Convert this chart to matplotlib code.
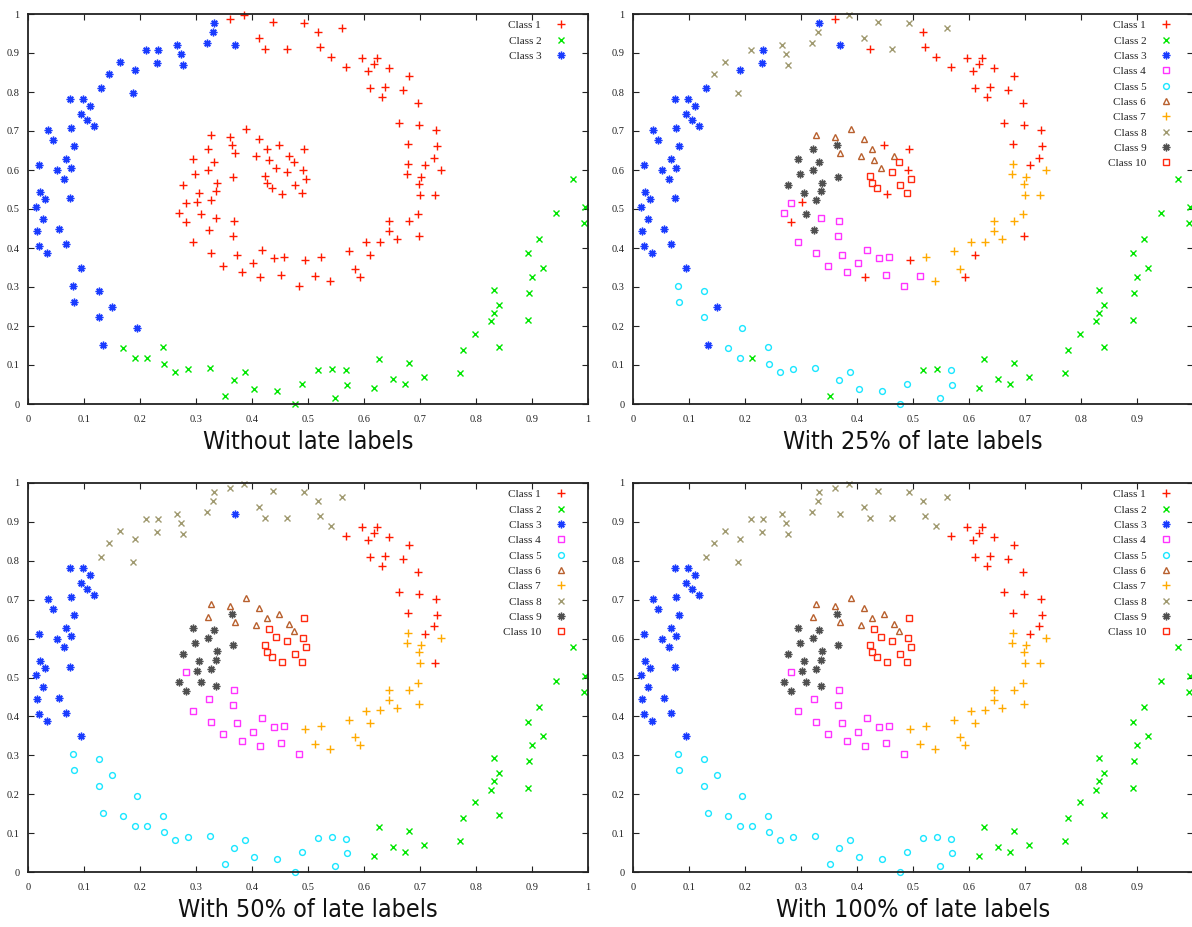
import matplotlib
matplotlib.use("Agg")
import matplotlib.pyplot as plt

# Points grouped by the class they get in the 100% panel.
# cK_orig: class in the "without late labels" panel,
# cK_p25 / cK_p50: class in the 25% / 50% panels (None = same as 100%).

c1_x = [0.596, 0.624, 0.617, 0.608, 0.567, 0.645, 0.610, 0.637, 0.632, 0.663,
        0.680, 0.669, 0.697, 0.698, 0.729, 0.679, 0.730, 0.725, 0.709]
c1_y = [0.886, 0.886, 0.871, 0.854, 0.863, 0.862, 0.810, 0.813, 0.787, 0.720,
        0.841, 0.804, 0.772, 0.715, 0.703, 0.667, 0.661, 0.632, 0.612]
c1_orig = 1
c1_p25 = None
c1_p50 = None

c2_x = [0.626, 0.651, 0.618, 0.680, 0.708, 0.673, 0.771, 0.776, 0.798, 0.841,
        0.826, 0.832, 0.841, 0.833, 0.893, 0.894, 0.900, 0.920, 0.892, 0.912,
        0.942, 0.973, 0.995, 0.993]
c2_y = [0.115, 0.063, 0.041, 0.105, 0.070, 0.052, 0.080, 0.138, 0.179, 0.146,
        0.212, 0.234, 0.254, 0.292, 0.216, 0.285, 0.326, 0.350, 0.386, 0.423,
        0.491, 0.578, 0.505, 0.463]
c2_orig = 2
c2_p25 = None
c2_p50 = None

c3_x = [0.075, 0.098, 0.110, 0.094, 0.105, 0.118, 0.035, 0.076, 0.045, 0.082,
        0.067, 0.077, 0.052, 0.020, 0.065, 0.021, 0.030, 0.075, 0.014, 0.027,
        0.016, 0.056, 0.019, 0.034, 0.068, 0.095]
c3_y = [0.781, 0.781, 0.763, 0.744, 0.728, 0.713, 0.703, 0.708, 0.677, 0.661,
        0.628, 0.606, 0.600, 0.613, 0.578, 0.543, 0.525, 0.528, 0.506, 0.475,
        0.444, 0.448, 0.406, 0.387, 0.410, 0.350]
c3_orig = 3
c3_p25 = None
c3_p50 = None

c4_x = [0.282, 0.323, 0.294, 0.326, 0.368, 0.366, 0.373, 0.417, 0.348, 0.382,
        0.402, 0.440, 0.457, 0.414, 0.452, 0.484]
c4_y = [0.515, 0.446, 0.415, 0.386, 0.468, 0.430, 0.382, 0.396, 0.355, 0.338,
        0.361, 0.374, 0.376, 0.325, 0.332, 0.303]
c4_orig = 1
c4_p25 = [4, 9, 4, 4, 4, 4, 4, 4, 4, 4, 4, 4, 4, 1, 4, 4]
c4_p50 = None

c5_x = [0.081, 0.082, 0.127, 0.150, 0.126, 0.195, 0.134, 0.170, 0.191, 0.212,
        0.241, 0.242, 0.262, 0.285, 0.325, 0.387, 0.367, 0.404, 0.352, 0.445,
        0.490, 0.477, 0.517, 0.543, 0.567, 0.570, 0.548]
c5_y = [0.303, 0.262, 0.291, 0.249, 0.222, 0.196, 0.152, 0.143, 0.119, 0.119,
        0.145, 0.102, 0.081, 0.091, 0.093, 0.082, 0.062, 0.039, 0.021, 0.033,
        0.051, 0.000, 0.088, 0.089, 0.086, 0.048, 0.015]
c5_orig = [3, 3, 3, 3, 3, 3, 3, 2, 2, 2, 2, 2, 2, 2,
           2, 2, 2, 2, 2, 2, 2, 2, 2, 2, 2, 2, 2]
c5_p25 = [5, 5, 5, 3, 5, 5, 3, 5, 5, 2, 5, 5, 5, 5,
          5, 5, 5, 5, 2, 5, 5, 5, 2, 2, 5, 5, 5]
c5_p50 = None

c6_x = [0.326, 0.322, 0.390, 0.361, 0.413, 0.369, 0.426, 0.449, 0.408, 0.466, 0.475]
c6_y = [0.690, 0.655, 0.705, 0.684, 0.679, 0.643, 0.653, 0.664, 0.636, 0.637, 0.620]
c6_orig = 1
c6_p25 = [6, 9, 6, 6, 6, 6, 6, 1, 6, 6, 10]
c6_p50 = None

c7_x = [0.679, 0.738, 0.676, 0.701, 0.699, 0.700, 0.727, 0.696, 0.680, 0.699,
        0.645, 0.645, 0.604, 0.629, 0.659, 0.573, 0.611, 0.495, 0.524, 0.584,
        0.592, 0.513, 0.540]
c7_y = [0.615, 0.601, 0.589, 0.583, 0.565, 0.536, 0.536, 0.487, 0.468, 0.431,
        0.468, 0.443, 0.415, 0.416, 0.422, 0.392, 0.383, 0.368, 0.376, 0.346,
        0.326, 0.328, 0.315]
c7_orig = 1
c7_p25 = [7, 7, 7, 7, 7, 7, 7, 7, 7, 1, 7, 7, 7, 7, 7, 7, 1, 1, 7, 7, 1, 4, 7]
c7_p50 = [7, 7, 7, 7, 7, 7, 1, 7, 7, 7, 7, 7, 7, 7, 7, 7, 7, 7, 7, 7, 7, 7, 7]

c8_x = [0.130, 0.145, 0.165, 0.191, 0.187, 0.210, 0.233, 0.230, 0.266, 0.274,
        0.276, 0.320, 0.330, 0.332, 0.361, 0.386, 0.438, 0.493, 0.561, 0.517,
        0.412, 0.369, 0.423, 0.462, 0.521, 0.541]
c8_y = [0.809, 0.845, 0.877, 0.856, 0.797, 0.907, 0.907, 0.875, 0.920, 0.897,
        0.870, 0.925, 0.955, 0.977, 0.987, 0.997, 0.979, 0.977, 0.964, 0.955,
        0.939, 0.921, 0.911, 0.910, 0.915, 0.890]
c8_orig = [3, 3, 3, 3, 3, 3, 3, 3, 3, 3, 3, 3, 3,
           3, 1, 1, 1, 1, 1, 1, 1, 3, 1, 1, 1, 1]
c8_p25 = [3, 8, 8, 3, 8, 8, 3, 3, 8, 8, 8, 8, 8,
          3, 1, 8, 8, 8, 8, 1, 8, 3, 1, 8, 1, 1]
c8_p50 = [8, 8, 8, 8, 8, 8, 8, 8, 8, 8, 8, 8, 8,
          8, 8, 8, 8, 8, 8, 8, 8, 3, 8, 8, 8, 8]

c9_x = [0.294, 0.299, 0.321, 0.276, 0.306, 0.302, 0.327, 0.364, 0.333, 0.366,
        0.337, 0.335, 0.269, 0.309, 0.282, 0.336]
c9_y = [0.627, 0.589, 0.601, 0.561, 0.542, 0.517, 0.522, 0.664, 0.621, 0.583,
        0.567, 0.546, 0.489, 0.488, 0.466, 0.478]
c9_orig = 1
c9_p25 = [9, 9, 9, 9, 9, 1, 9, 9, 9, 9, 9, 9, 4, 9, 1, 4]
c9_p50 = None

c10_x = [0.493, 0.430, 0.442, 0.462, 0.491, 0.496, 0.424, 0.427, 0.435, 0.476,
         0.453, 0.489]
c10_y = [0.654, 0.625, 0.604, 0.595, 0.601, 0.578, 0.584, 0.566, 0.553, 0.561,
         0.539, 0.541]
c10_orig = 1
c10_p25 = [1, 6, 6, 10, 1, 10, 10, 10, 10, 10, 1, 10]
c10_p50 = None

groups = {
    1: (c1_x, c1_y, c1_orig, c1_p25, c1_p50),
    2: (c2_x, c2_y, c2_orig, c2_p25, c2_p50),
    3: (c3_x, c3_y, c3_orig, c3_p25, c3_p50),
    4: (c4_x, c4_y, c4_orig, c4_p25, c4_p50),
    5: (c5_x, c5_y, c5_orig, c5_p25, c5_p50),
    6: (c6_x, c6_y, c6_orig, c6_p25, c6_p50),
    7: (c7_x, c7_y, c7_orig, c7_p25, c7_p50),
    8: (c8_x, c8_y, c8_orig, c8_p25, c8_p50),
    9: (c9_x, c9_y, c9_orig, c9_p25, c9_p50),
    10: (c10_x, c10_y, c10_orig, c10_p25, c10_p50),
}

styles = {
    1: dict(marker="+", color="#ff1a00", ms=5.5, mew=1.0),
    2: dict(marker="x", color="#00e600", ms=4.5, mew=1.0),
    3: dict(marker=(8, 2, 0), color="#1a3cff", ms=5.5, mew=1.0),
    4: dict(marker="s", color="#ff33ff", ms=4.2, mew=1.0, mfc="none"),
    5: dict(marker="o", color="#1ae6ff", ms=4.2, mew=1.0, mfc="none"),
    6: dict(marker="^", color="#b8602e", ms=5.0, mew=1.0, mfc="none"),
    7: dict(marker="+", color="#ffaa00", ms=5.5, mew=1.0),
    8: dict(marker="x", color="#a09a70", ms=4.5, mew=1.0),
    9: dict(marker=(8, 2, 0), color="#505050", ms=5.5, mew=1.0),
    10: dict(marker="s", color="#ff2a10", ms=4.2, mew=1.0, mfc="none"),
}

titles = ["Without late labels", "With 25% of late labels",
          "With 50% of late labels", "With 100% of late labels"]

W, H = 1192, 927
# axes boxes in pixels: left, top, right, bottom
boxes = [(28, 14, 588, 404), (633, 14, 1193, 404),
         (28, 483, 588, 872), (633, 483, 1193, 872)]


def labels_for(panel, cls):
    xs, ys, orig, p25, p50 = groups[cls]
    n = len(xs)
    if panel == 0:
        return orig if isinstance(orig, list) else [orig] * n
    if panel == 1 and p25 is not None:
        return p25
    if panel == 2 and p50 is not None:
        return p50
    return [cls] * n


fig = plt.figure(figsize=(W / 100, H / 100), dpi=100)
serif = ["Liberation Serif", "DejaVu Serif"]

for p, (l, t, r, b) in enumerate(boxes):
    ax = fig.add_axes([l / W, 1 - b / H, (r - l) / W, (b - t) / H])
    pts = {}
    for cls, grp in groups.items():
        xs, ys = grp[0], grp[1]
        for x, y, c in zip(xs, ys, labels_for(p, cls)):
            pts.setdefault(c, ([], []))
            pts[c][0].append(x)
            pts[c][1].append(y)
    nclass = 3 if p == 0 else 10
    for c in range(1, nclass + 1):
        xs, ys = pts.get(c, ([], []))
        ax.plot(xs, ys, linestyle="none", label=f"Class {c}", clip_on=False, **styles[c])

    ax.set_xlim(0, 1)
    ax.set_ylim(0, 1)
    ticks = [i / 10 for i in range(11)]
    ticklabels = ["0"] + [f"{v:.1f}" for v in ticks[1:-1]] + ["1"]
    xlabels = list(ticklabels)
    if l > 600:
        xlabels[-1] = ""  # falls off the right edge in the original
    ax.set_xticks(ticks)
    ax.set_xticklabels(xlabels, family=serif, fontsize=7.5)
    ax.set_yticks(ticks)
    ax.set_yticklabels(ticklabels, family=serif, fontsize=7.5)
    ax.tick_params(direction="in", length=4, width=0.8, top=True, right=True,
                   color="#222222", labelcolor="#222222")
    ax.tick_params(axis="x", pad=8)
    ax.tick_params(axis="y", pad=6)
    for s in ax.spines.values():
        s.set_linewidth(1.3)
        s.set_color("#222222")

    leg = ax.legend(loc="upper right", bbox_to_anchor=(0.972, 0.995),
                    markerfirst=False, frameon=False, handlelength=1.2,
                    handletextpad=1.2, labelspacing=0.5, borderaxespad=0,
                    prop={"family": serif, "size": 8})
    for txt in leg.get_texts():
        txt.set_color("#222222")

    fig.text((l + r) / 2 / W, 1 - (b + 38) / H, titles[p],
             ha="center", va="center", fontsize=18, fontstretch="condensed",
             family=["DejaVu Sans"], color="#111111")

fig.savefig("out.png", dpi=100)
